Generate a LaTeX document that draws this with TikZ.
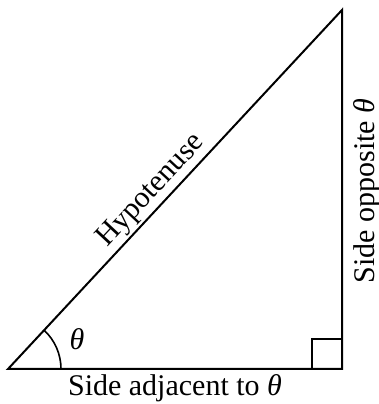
\documentclass[tikz,border=0pt]{standalone}
\usepackage{fontspec}
\setmainfont{Liberation Serif}
\usetikzlibrary{calc}

\begin{document}
\begin{tikzpicture}[
  x=1pt, y=1pt,
  side/.style={line width=2pt, line join=miter},
  anglemark/.style={line width=1.6pt},
  lbl/.style={font=\fontsize{30}{34}\selectfont, inner sep=3pt}
]
\useasboundingbox (0,0) rectangle (378,404);
\coordinate (A) at (8,35);
\coordinate (B) at (342,35);
\coordinate (C) at (342,394);

\draw[side] (A) -- (B) -- (C) -- cycle;
% right angle and angle arc
\draw[anglemark] ($(B)+(-30,0)$) -- ++(0,30) -- ++(30,0);
\draw[anglemark] ($(A)+(53,0)$) arc (0:47.1:53);

\path (A) -- (C) node[lbl, sloped, above, pos=0.465] (hyp) {Hypotenuse};
\node[lbl] (theta) at ($(A)+(69,30)$) {\textit{θ}};
\node[lbl, rotate=90, inner sep=0pt] (opp) at (367,213) {Side opposite \textit{θ}};
\node[lbl, inner sep=0pt] (adj) at (175,16) {Side adjacent to \textit{θ}};
\end{tikzpicture}
\end{document}
